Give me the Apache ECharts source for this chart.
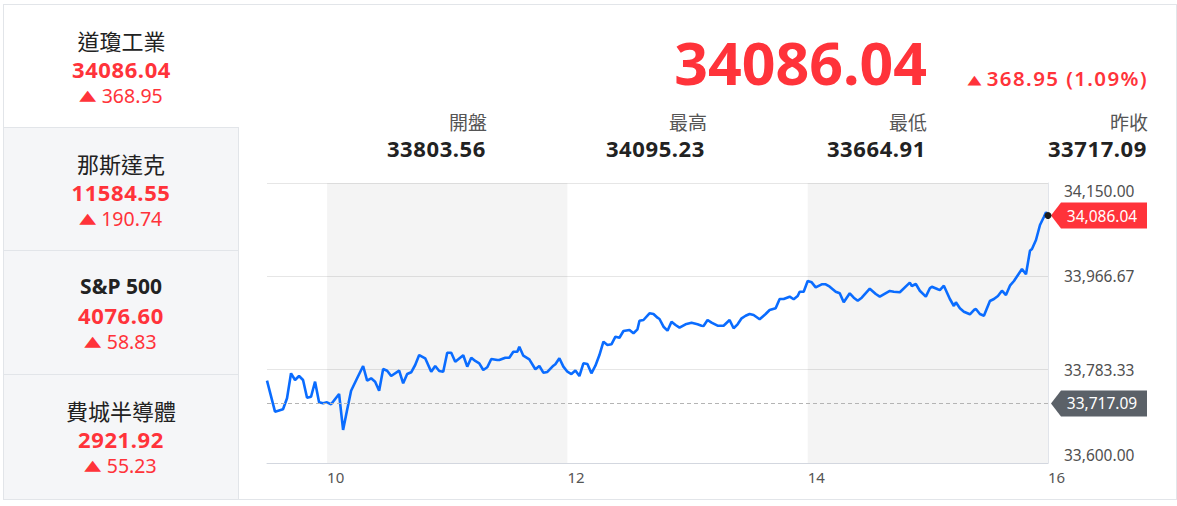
<!DOCTYPE html>
<html><head><meta charset="utf-8">
<script src="https://cdn.jsdelivr.net/npm/echarts@6/dist/echarts.min.js"></script>
<style>
html,body{margin:0;padding:0;background:#fff;width:1177px;height:506px;overflow:hidden;font-family:"Noto Sans","Noto Sans CJK TC",sans-serif;}
.frame{position:absolute;left:3px;top:4px;width:1174px;height:496px;border:1px solid #e2e5e9;box-sizing:border-box;}
.tab{position:absolute;left:4px;width:235px;box-sizing:border-box;}
.tab.off{background:#f5f6f8;border-top:1px solid #e2e5e9;border-right:1px solid #e2e5e9;}
.t{position:absolute;left:0;width:100%;text-align:center;white-space:nowrap;line-height:30px;height:30px;}
.name{top:20px;font-size:22px;color:#222;font-family:"Noto Sans CJK TC","Noto Sans",sans-serif;}
.name.lat{font-family:"Noto Sans",sans-serif;font-weight:700;font-size:21px;}
.val{top:49px;font-size:22px;font-weight:700;color:#ff333a;letter-spacing:0.6px;}
.chg{top:76px;font-size:19.5px;color:#ff333a;}
.tri{display:inline-block;transform:scale(1.1,0.72);font-size:20px;margin-right:6px;font-family:"DejaVu Sans",sans-serif;position:relative;top:-1px;line-height:20px;}
.h{position:absolute;white-space:nowrap;text-align:right;}
.big{right:250px;top:27px;line-height:70px;font-size:59px;font-weight:700;color:#ff333a;}
.hchg{right:29px;top:63px;line-height:30px;font-size:20.5px;font-weight:600;color:#ff333a;letter-spacing:1.4px;}
.hchg .tri{font-size:17px;margin-right:6px;transform:scale(1.07,0.75);letter-spacing:0;}
.lab{top:107px;line-height:30px;font-size:19px;color:#555;font-family:"Noto Sans CJK TC","Noto Sans",sans-serif;}
.num{top:133px;line-height:30px;font-size:22px;font-weight:700;color:#222;letter-spacing:0.6px;}
#chart{position:absolute;left:240px;top:170px;width:937px;height:336px;}
</style></head>
<body>
<div class="frame"></div>
<div class="tab" style="top:5px;height:122px;">
  <div class="t name">道瓊工業</div><div class="t val">34086.04</div><div class="t chg"><span class="tri">▲</span>368.95</div>
</div>
<div class="tab off" style="top:127px;height:124px;">
  <div class="t name">那斯達克</div><div class="t val">11584.55</div><div class="t chg"><span class="tri">▲</span>190.74</div>
</div>
<div class="tab off" style="top:250px;height:125px;">
  <div class="t name lat">S&amp;P 500</div><div class="t val">4076.60</div><div class="t chg"><span class="tri">▲</span>58.83</div>
</div>
<div class="tab off" style="top:374px;height:125px;">
  <div class="t name">費城半導體</div><div class="t val">2921.92</div><div class="t chg"><span class="tri">▲</span>55.23</div>
</div>

<div class="h big">34086.04</div>
<div class="h hchg"><span class="tri">▲</span>368.95 (1.09%)</div>
<div class="h lab" style="right:690px;">開盤</div>
<div class="h lab" style="right:470px;">最高</div>
<div class="h lab" style="right:250px;">最低</div>
<div class="h lab" style="right:29px;">昨收</div>
<div class="h num" style="right:691px;">33803.56</div>
<div class="h num" style="right:472px;">34095.23</div>
<div class="h num" style="right:251px;">33664.91</div>
<div class="h num" style="right:30px;">33717.09</div>

<div id="chart"></div>
<script>
const times = [
"09:30","09:34","09:38","09:40","09:42","09:44","09:46","09:48","09:50","09:52",
"09:54","09:56","09:58","10:00","10:02","10:06","10:08","10:10","10:12","10:15",
"10:18","10:20","10:22","10:24","10:26","10:28","10:30","10:32","10:36","10:38",
"10:40","10:42","10:44","10:46","10:49","10:52","10:54","10:56","10:58","11:00",
"11:02","11:04","11:08","11:10","11:12","11:14","11:16","11:18","11:20","11:22",
"11:25","11:26","11:29","11:31","11:33","11:35","11:36","11:38","11:41","11:44",
"11:46","11:48","11:50","11:53","11:54","11:56","11:58","12:00","12:02","12:04",
"12:06","12:08","12:10","12:12","12:14","12:16","12:18","12:20","12:22","12:24",
"12:26","12:28","12:31","12:33","12:35","12:36","12:38","12:41","12:43","12:45",
"12:46","12:48","12:50","12:52","12:54","12:56","12:59","13:02","13:05","13:07",
"13:08","13:10","13:12","13:15","13:18","13:21","13:23","13:25","13:27","13:29",
"13:31","13:33","13:36","13:39","13:41","13:44","13:46","13:48","13:51","13:53",
"13:55","13:56","13:58","14:00","14:02","14:04","14:07","14:09","14:11","14:14",
"14:16","14:18","14:21","14:23","14:25","14:27","14:31","14:34","14:36","14:41",
"14:43","14:46","14:51","14:52","14:54","14:56","14:59","15:01","15:02","15:05",
"15:06","15:08","15:11","15:13","15:14","15:16","15:18","15:21","15:23","15:24",
"15:26","15:28","15:31","15:33","15:35","15:37","15:39","15:41","15:43","15:45",
"15:47","15:49","15:51","15:52","15:54","15:56","15:58","15:59","16:00"];
const prices = [
33761.7,33700.8,33705.5,33727.1,33776.2,33763.0,33770.9,33763.0,33728.3,33730.2,
33759.7,33719.2,33717.3,33719.2,33715.3,33735.5,33664.9,33704.1,33742.0,33766.4,
33790.5,33761.7,33766.4,33759.7,33742.0,33784.6,33781.3,33770.9,33781.3,33756.6,
33774.8,33778.2,33792.5,33812.1,33805.7,33779.3,33790.5,33780.7,33779.3,33816.7,
33816.7,33799.0,33811.6,33789.2,33806.8,33800.4,33795.8,33782.7,33788.0,33804.3,
33802.3,33802.3,33806.8,33806.8,33818.6,33818.6,33828.4,33810.8,33803.7,33784.1,
33790.5,33777.4,33778.8,33791.1,33793.9,33805.7,33789.2,33779.3,33774.8,33781.5,
33770.9,33795.8,33794.5,33776.2,33791.1,33812.1,33838.3,33831.8,33833.2,33848.1,
33846.1,33859.3,33861.3,33854.8,33862.6,33879.5,33880.9,33894.1,33892.7,33885.4,
33882.9,33867.7,33859.9,33877.6,33871.1,33865.8,33872.4,33875.6,33872.4,33869.7,
33869.1,33880.9,33875.6,33869.7,33869.7,33880.9,33864.6,33872.4,33884.2,33889.3,
33892.7,33890.7,33882.3,33892.7,33900.5,33903.9,33922.1,33922.1,33926.7,33921.6,
33928.0,33936.5,33936.5,33957.5,33954.9,33945.1,33951.0,33951.0,33946.3,33936.5,
33933.3,33915.7,33933.3,33924.7,33918.8,33924.7,33942.4,33932.0,33926.7,33937.9,
33936.5,33935.3,33954.2,33947.7,33951.6,33938.4,33926.7,33943.2,33946.3,33941.2,
33939.8,33948.3,33922.1,33908.4,33915.7,33903.9,33897.2,33892.1,33900.5,33902.5,
33892.7,33889.3,33918.2,33922.1,33928.0,33938.4,33930.0,33948.3,33957.5,33969.3,
33981.1,33970.7,34017.0,34020.4,34038.0,34067.5,34083.8,34092.5,34086.04];
const prevClose = 33717.09;
const lastPrice = 34086.04;
const yTicks = [33600, 33783.33, 33966.67, 34150];
const xTickTimes = ["10:00","12:00","14:00","16:00"];
const xTickLabels = ["10","12","14","16"];
const shadedBands = [["10:00","12:00"],["14:00","16:00"]];
const sessionStart = "09:30", sessionEnd = "16:00";

const toMin = s => { const p = s.split(':'); return (+p[0]) * 60 + (+p[1]); };
const fmt = v => Number(v).toLocaleString('en-US', {minimumFractionDigits: 2, maximumFractionDigits: 2});
const data = times.map((t, i) => [toMin(t), prices[i]]);
const xTickMins = xTickTimes.map(toMin);
const endMin = toMin(sessionEnd);

const chart = echarts.init(document.getElementById('chart'), null, {renderer: 'svg'});
chart.setOption({
  animation: false,
  grid: {left: 27, top: 13, right: 129, bottom: 43},
  xAxis: {
    type: 'value', min: toMin(sessionStart), max: endMin,
    axisLine: {show: true, lineStyle: {color: '#d3d7df', width: 1}},
    axisTick: {show: false},
    splitLine: {show: false},
    axisLabel: {
      customValues: xTickMins, align: 'left', margin: 6,
      fontSize: 15, color: '#555', fontFamily: 'Noto Sans',
      formatter: v => xTickLabels[xTickMins.indexOf(v)] ?? ''
    }
  },
  yAxis: {
    type: 'value', position: 'right', min: yTicks[0], max: yTicks[yTicks.length - 1],
    axisLine: {show: true, lineStyle: {color: '#e1e4ea'}},
    axisTick: {show: false, customValues: yTicks},
    splitLine: {show: true, lineStyle: {color: '#e6e6e6'}},
    axisLabel: {
      customValues: yTicks, margin: 16, fontSize: 15.5, color: '#505050', fontFamily: 'Noto Sans',
      verticalAlignMinLabel: 'bottom', verticalAlignMaxLabel: 'top',
      formatter: v => fmt(v)
    }
  },
  series: [{
    type: 'line', data: data, showSymbol: false, smooth: false,
    lineStyle: {color: '#0a6cff', width: 2.6},
    itemStyle: {color: '#0a6cff'},
    z: 3,
    markArea: {
      silent: true,
      itemStyle: {color: 'rgba(0,0,0,0.045)'},
      data: shadedBands.map(b => [{xAxis: toMin(b[0])}, {xAxis: toMin(b[1])}])
    },
    markLine: {
      silent: true, symbol: ['none', 'none'],
      lineStyle: {color: '#b4b4b4', type: [4, 3], width: 1},
      label: {show: false},
      data: [{yAxis: prevClose}]
    },
    markPoint: {
      silent: true,
      data: [
        {coord: [endMin, lastPrice], symbol: 'path://M0,13L10,0L96,0L96,26L10,26Z', symbolSize: [96, 26],
         symbolKeepAspect: false, symbolOffset: [51, 0], itemStyle: {color: '#ff333a'},
         label: {show: true, position: 'inside', offset: [3, 0], color: '#fff', fontSize: 15.5, fontFamily: 'Noto Sans', formatter: () => fmt(lastPrice)}},
        {coord: [endMin, prevClose], symbol: 'path://M0,13L10,0L96,0L96,26L10,26Z', symbolSize: [96, 26],
         symbolKeepAspect: false, symbolOffset: [51, 0], itemStyle: {color: '#5b6168'},
         label: {show: true, position: 'inside', offset: [3, 0], color: '#fff', fontSize: 15.5, fontFamily: 'Noto Sans', formatter: () => fmt(prevClose)}},
        {coord: [endMin, lastPrice], symbol: 'circle', symbolSize: 7, itemStyle: {color: '#1d1d1d'}, label: {show: false}}
      ]
    }
  }]
});
</script>
</body></html>
